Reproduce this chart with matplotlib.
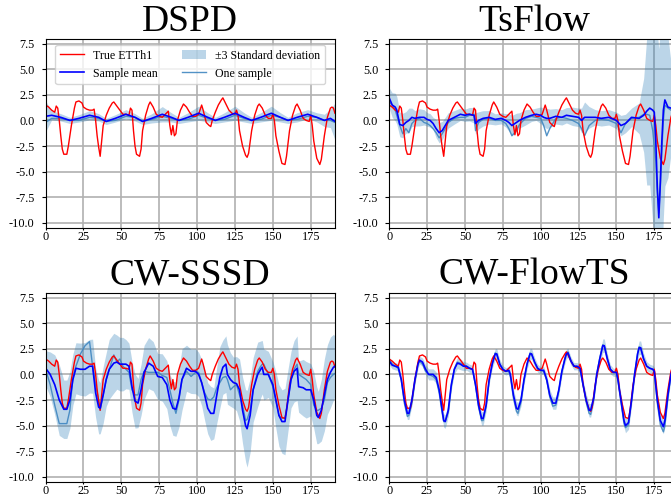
import numpy as np
import matplotlib
matplotlib.use('Agg')
import matplotlib.pyplot as plt

plt.rcParams['font.family'] = ['Liberation Serif', 'DejaVu Serif']
plt.rcParams['axes.unicode_minus'] = False

# ground truth ETTh1 (same in every panel)
true_x = [0, 2, 4, 6, 7, 8, 9, 10, 11, 12, 14, 15, 17, 19, 20, 22, 24, 25, 27, 29,
          31, 32, 33, 34, 35, 36, 37, 38, 40, 42, 44, 45, 47, 49, 51, 53, 55, 56, 57, 58,
          59, 60, 62, 63, 64, 66, 68, 69, 71, 73, 75, 77, 79, 81, 82, 83, 84, 85, 86, 87,
          89, 91, 93, 95, 97, 99, 101, 103, 104, 106, 108, 109, 110, 112, 114, 116, 117, 119, 121, 123,
          125, 126, 127, 128, 130, 132, 133, 134, 136, 138, 140, 141, 143, 145, 147, 149, 150, 151, 152, 154,
          156, 158, 159, 161, 163, 165, 166, 168, 170, 172, 174, 175, 176, 177, 179, 181, 182, 184, 186, 188,
          189, 190, 191]
true_y = [1.5, 1.3, 1.0, 0.8, 1.4, 1.2, 0.0, -1.5, -2.8, -3.3, -3.3, -2.5, -0.5, 1.2, 1.8, 1.9, 1.7, 1.3, 1.1, 1.0,
          1.0, 1.1, 0.0, -1.5, -2.6, -3.5, -2.0, -0.5, 0.5, 1.2, 1.7, 1.8, 1.4, 1.0, 0.6, 0.6, 0.5, 1.2, 1.0, -1.0,
          -2.5, -3.3, -3.5, -2.8, -1.0, 0.5, 1.5, 1.8, 1.3, 0.6, 0.4, 0.3, 0.6, 0.9, -0.5, -1.4, -0.5, -1.5, -1.3, 0.0,
          1.0, 1.6, 1.3, 0.8, 0.4, 0.4, 0.6, 1.5, 1.0, -0.2, -0.5, -0.6, 0.0, 0.8, 1.5, 2.0, 2.2, 1.6, 1.0, 0.7,
          0.6, 1.0, 0.5, -1.0, -2.5, -3.4, -3.6, -3.2, -1.0, 0.5, 1.4, 1.6, 1.2, 0.5, 0.2, 0.2, 0.6, 0.0, -1.5, -3.0,
          -4.2, -4.3, -3.5, -1.0, 0.5, 1.4, 1.6, 1.0, 0.2, 0.0, -0.1, 0.5, -0.5, -2.0, -3.7, -4.3, -3.8, -1.5, 0.3, 1.2,
          1.3, 1.2, 0.7]

# DSPD
dspd_x = [0, 4, 10, 16, 22, 29, 35, 40, 46, 53, 59, 64, 70, 77, 83, 88, 94, 101, 107, 112,
          118, 125, 131, 136, 142, 149, 155, 160, 166, 173, 179, 184, 188, 191]
dspd_mean = [0.4, 0.5, 0.3, 0.0, 0.2, 0.5, 0.3, -0.1, 0.2, 0.6, 0.3, -0.1, 0.2, 0.6, 0.3, 0.0, 0.3, 0.7, 0.3, 0.0,
             0.3, 0.7, 0.3, 0.0, 0.3, 0.7, 0.3, 0.0, 0.3, 0.6, 0.3, 0.0, 0.2, -0.1]
dspd_std = [0.5, 0.15, 0.12, 0.1, 0.12, 0.15, 0.12, 0.1, 0.12, 0.15, 0.12, 0.1, 0.15, 0.25, 0.15, 0.1, 0.15, 0.23, 0.15, 0.1,
            0.15, 0.23, 0.15, 0.1, 0.15, 0.23, 0.15, 0.1, 0.15, 0.15, 0.15, 0.2, 0.3, 0.6]
dspd_sample = [-0.2, 0.2, 0.2, 0.0, 0.0, 0.3, 0.2, -0.1, 0.0, 0.4, 0.3, -0.1, 0.1, 0.4, 0.2, 0.0, 0.1, 0.5, 0.2, 0.0,
               0.1, 0.5, 0.2, 0.0, 0.1, 0.5, 0.3, 0.0, 0.1, 0.4, 0.3, 0.0, 0.0, -0.2]

# TsFlow
tsflow_x = [0, 2, 4, 5, 7, 9, 11, 13, 15, 17, 20, 23, 25, 27, 29, 31, 33, 35, 37, 39,
            43, 47, 50, 53, 56, 57, 59, 62, 66, 70, 74, 77, 79, 81, 84, 86, 90, 94, 97, 100,
            102, 104, 106, 110, 114, 117, 121, 125, 127, 129, 132, 136, 140, 145, 150, 153, 156, 160, 165, 168,
            170, 172, 174, 175, 176, 177, 178, 179, 180, 181, 182, 184, 186, 188, 191]
tsflow_mean = [2.2, 1.5, 1.3, 1.0, -0.4, -0.5, -0.2, 0.0, 0.3, 0.2, 0.3, 0.3, 0.1, 0.0, -0.3, -0.8, -1.2, -1.0, -0.5, 0.0,
               0.3, 0.6, 0.5, 0.6, 0.5, -0.3, 0.0, 0.2, 0.3, 0.1, 0.2, 0.0, -0.2, -0.5, -0.2, 0.0, 0.3, 0.5, 0.6, 0.5,
               0.3, 0.2, 0.2, 0.4, 0.3, 0.5, 0.4, 0.3, 0.0, 0.3, 0.3, 0.3, 0.2, 0.3, 0.0, -0.5, -0.3, 0.3, 0.2, 0.5,
               0.9, 1.2, 1.0, 0.8, -2.0, -6.5, -9.5, -6.0, -2.0, 1.0, 2.0, 1.3, 1.2, 1.0, 1.0]
tsflow_std = [0.33, 0.4, 0.45, 0.45, 0.4, 0.4, 0.35, 0.4, 0.3, 0.25, 0.28, 0.25, 0.22, 0.22, 0.2, 0.3, 0.33, 0.3, 0.27, 0.25,
              0.22, 0.2, 0.2, 0.22, 0.25, 0.35, 0.28, 0.25, 0.22, 0.18, 0.18, 0.22, 0.28, 0.33, 0.3, 0.25, 0.25, 0.2, 0.2, 0.27,
              0.3, 0.33, 0.3, 0.25, 0.25, 0.25, 0.3, 0.3, 0.4, 0.5, 0.35, 0.25, 0.25, 0.25, 0.27, 0.33, 0.3, 0.3, 0.5, 1.2,
              2.4, 2.5, 3.7, 4.0, 4.5, 5.0, 5.5, 5.0, 4.0, 3.5, 2.8, 2.3, 1.5, 1.0, 0.8]
tsflow_sample = [1.8, 1.5, 1.0, 0.5, -0.5, -1.3, -0.8, -1.2, -0.3, 0.0, 0.2, -0.2, -0.3, -0.5, -0.8, -1.2, -1.7, -1.3, -0.8, -0.2,
                 0.2, 0.3, 0.3, 0.5, 0.6, -1.0, -0.2, 0.1, 0.2, 0.0, 0.0, -0.3, -0.8, -1.5, -1.0, -0.4, 0.2, 0.4, 0.3, 0.2,
                 -0.5, -1.5, -0.8, 0.2, 0.3, 0.2, 0.0, -0.3, -0.8, -1.5, -0.5, 0.0, 0.1, 0.0, -0.3, -1.2, -0.3, 0.2, 0.3, 0.6,
                 0.6, 0.5, -1.0, -2.5, -4.0, -7.0, -9.0, -6.5, -3.0, 0.0, 1.5, 1.2, 1.0, 0.9, 0.8]

# CW-SSSD
sssd_x = [0, 3, 6, 9, 12, 14, 16, 18, 20, 23, 26, 29, 31, 33, 35, 36, 38, 40, 42, 45,
          47, 49, 51, 53, 55, 57, 59, 61, 63, 65, 68, 71, 74, 77, 80, 82, 84, 86, 88, 90,
          93, 96, 99, 101, 103, 105, 107, 109, 111, 113, 115, 117, 119, 120, 122, 124, 126, 128, 130, 132,
          133, 135, 137, 140, 142, 143, 144, 147, 150, 152, 154, 156, 158, 160, 162, 164, 166, 167, 170, 172,
          175, 177, 179, 180, 182, 184, 186, 188, 190, 191]
sssd_mean = [0.6, 0.0, -1.0, -2.5, -3.4, -3.4, -2.5, -0.5, 0.6, 0.5, 0.5, 0.8, 0.8, -1.8, -3.2, -3.3, -2.0, -0.5, 0.5, 1.1,
             1.2, 1.0, 1.0, 1.0, 0.8, -1.2, -2.6, -2.8, -1.5, 0.2, 1.1, 0.8, -0.2, -0.3, -1.0, -2.5, -3.3, -3.4, -2.3, -0.5,
             0.6, 0.3, 0.3, 0.0, -0.8, -2.0, -3.3, -3.8, -3.8, -2.0, -0.3, 0.7, 1.0, 0.0, -0.5, -0.8, -0.9, -1.5, -3.5, -5.0,
             -5.3, -4.0, -1.5, 0.0, 0.5, 0.7, 0.0, 0.0, -1.0, -2.5, -4.0, -4.6, -4.6, -2.5, -0.5, 0.3, 0.6, -1.2, -1.3, -1.5,
             -1.5, -2.5, -4.0, -4.2, -3.5, -2.0, -0.5, 0.2, 0.7, 0.8]
sssd_std = [0.57, 0.73, 0.97, 1.15, 0.95, 0.95, 0.92, 0.83, 0.83, 0.85, 0.87, 0.87, 0.88, 0.8, 0.87, 0.83, 0.92, 0.87, 0.97, 0.97,
            0.88, 0.87, 0.87, 0.8, 0.75, 0.83, 0.88, 0.8, 0.83, 0.88, 0.83, 0.8, 0.75, 0.77, 0.78, 0.83, 0.88, 0.88, 0.95, 1.0,
            0.75, 0.72, 0.73, 0.72, 0.75, 0.83, 0.83, 0.88, 0.83, 0.92, 1.0, 0.88, 0.92, 0.97, 0.87, 0.83, 0.88, 1.0, 1.08, 1.17,
            1.25, 1.2, 1.05, 1.05, 0.92, 0.87, 0.83, 0.75, 0.75, 0.92, 1.0, 1.03, 1.08, 1.0, 0.92, 1.0, 1.05, 0.83, 0.92, 0.92,
            0.85, 0.92, 0.92, 0.85, 1.0, 1.17, 1.13, 1.15, 1.07, 0.98]
sssd_sample = [0.5, -1.0, -3.0, -4.8, -4.8, -4.8, -3.5, -0.3, 0.8, 2.0, 2.8, 3.2, 0.8, -1.0, -2.5, -3.5, -2.0, -0.5, 0.5, 1.9,
               1.2, 1.5, 0.8, 0.5, 0.2, -1.5, -2.0, -2.0, -0.5, 0.3, 0.2, 0.2, 0.2, -0.1, -0.3, -1.5, -2.8, -3.8, -2.5, -0.5,
               0.3, -0.2, 0.2, 0.2, -0.8, -1.8, -2.4, -2.5, -2.2, -1.3, -0.8, -0.3, -0.2, -0.5, -1.5, -1.2, -1.0, -2.0, -3.0, -4.5,
               -4.4, -3.5, -1.5, 0.3, 0.8, 1.0, 1.0, 0.0, -1.2, -2.5, -4.0, -4.3, -4.2, -2.5, -0.5, 0.5, 1.0, 0.0, -0.3, -0.5,
               -1.0, -3.0, -3.5, -3.5, -3.3, -2.5, -0.8, -0.3, 0.0, 0.1]

# CW-FlowTS
flowts_x = [0, 2, 4, 6, 8, 10, 12, 13, 15, 17, 19, 20, 22, 24, 26, 29, 31, 33, 35, 36,
            37, 39, 41, 43, 45, 47, 49, 51, 53, 55, 57, 59, 61, 62, 64, 66, 68, 70, 71, 73,
            75, 77, 79, 80, 82, 84, 85, 87, 89, 91, 93, 94, 96, 98, 100, 102, 104, 106, 108, 110,
            112, 114, 116, 117, 118, 120, 122, 124, 126, 128, 130, 132, 133, 135, 137, 139, 141, 142, 144, 146,
            148, 150, 151, 153, 155, 156, 158, 160, 162, 164, 165, 166, 168, 170, 172, 174, 175, 177, 179, 181,
            182, 184, 186, 188, 191]
flowts_mean = [1.3, 0.9, 0.8, 0.7, -0.5, -2.5, -3.8, -3.8, -2.5, -0.5, 1.0, 1.4, 1.2, 0.5, 0.0, 0.0, -0.3, -1.5, -3.5, -4.5,
               -4.6, -3.5, -1.0, 0.5, 1.1, 1.0, 0.8, 0.8, 0.6, 0.5, -1.0, -3.0, -4.3, -4.3, -3.0, -0.5, 1.0, 2.0, 2.0, 1.0,
               0.5, 0.3, 0.4, 0.0, -2.0, -3.3, -3.4, -2.5, -0.5, 1.0, 2.0, 2.0, 1.2, 0.6, 0.4, 0.4, -0.5, -2.0, -2.8, -2.8,
               -1.5, 0.3, 1.5, 2.0, 2.1, 1.3, 0.8, 0.8, 0.6, -1.0, -2.5, -3.5, -3.5, -2.3, 0.0, 1.5, 2.8, 2.8, 1.5, 0.5,
               0.2, 0.2, -0.5, -2.5, -4.5, -5.0, -4.7, -2.5, 0.0, 2.0, 2.6, 2.6, 1.5, 0.8, 0.6, 0.5, 0.3, -2.5, -4.5, -5.1,
               -4.5, -2.0, 0.0, 1.0, 1.2]
flowts_std = [0.12, 0.12, 0.12, 0.12, 0.15, 0.2, 0.2, 0.2, 0.18, 0.15, 0.15, 0.13, 0.13, 0.15, 0.18, 0.18, 0.18, 0.2, 0.22, 0.22,
              0.22, 0.2, 0.18, 0.15, 0.18, 0.18, 0.15, 0.13, 0.13, 0.13, 0.15, 0.2, 0.22, 0.22, 0.2, 0.15, 0.15, 0.17, 0.17, 0.15,
              0.12, 0.12, 0.12, 0.13, 0.2, 0.22, 0.22, 0.2, 0.17, 0.17, 0.18, 0.18, 0.15, 0.13, 0.12, 0.12, 0.15, 0.18, 0.2, 0.2,
              0.18, 0.15, 0.15, 0.15, 0.15, 0.13, 0.12, 0.12, 0.12, 0.15, 0.2, 0.22, 0.22, 0.18, 0.15, 0.18, 0.22, 0.22, 0.18, 0.15,
              0.13, 0.13, 0.15, 0.2, 0.22, 0.23, 0.22, 0.2, 0.17, 0.2, 0.22, 0.22, 0.18, 0.15, 0.13, 0.13, 0.13, 0.2, 0.22, 0.23,
              0.22, 0.2, 0.17, 0.15, 0.15]
flowts_sample = [1.5, 1.0, 0.8, 0.6, -0.6, -2.8, -4.1, -4.0, -2.8, -0.7, 1.0, 1.3, 1.0, 0.3, 0.0, -0.2, -0.5, -1.8, -3.8, -4.6,
                 -4.6, -3.7, -1.2, 0.5, 1.2, 1.1, 0.9, 0.8, 0.6, 0.5, -1.1, -3.2, -4.5, -4.5, -3.1, -0.6, 1.1, 2.1, 2.0, 1.0,
                 0.5, 0.3, 0.3, -0.2, -2.3, -3.6, -3.8, -2.7, -0.6, 1.0, 2.1, 2.0, 1.2, 0.5, 0.4, 0.3, -0.6, -2.2, -3.1, -3.0,
                 -1.6, 0.3, 1.6, 2.1, 2.2, 1.3, 0.8, 0.7, 0.5, -1.1, -2.7, -3.8, -3.9, -2.5, 0.0, 1.6, 2.9, 2.8, 1.6, 0.5,
                 0.2, 0.2, -0.6, -2.7, -4.8, -5.2, -4.9, -2.6, 0.0, 2.1, 2.7, 2.6, 1.5, 0.8, 0.6, 0.5, 0.3, -2.8, -4.9, -5.6,
                 -5.0, -2.2, 0.0, 1.0, 1.2]

titles = ['DSPD', 'TsFlow', 'CW-SSSD', 'CW-FlowTS']
panels = [(dspd_x, dspd_mean, dspd_std, dspd_sample),
          (tsflow_x, tsflow_mean, tsflow_std, tsflow_sample),
          (sssd_x, sssd_mean, sssd_std, sssd_sample),
          (flowts_x, flowts_mean, flowts_std, flowts_sample)]

# axes boxes in figure fraction; right column runs off the edge like the source image
w, h = 0.4312, 0.379
boxes = [[0.068, 0.543, w, h], [0.580, 0.543, w, h],
         [0.068, 0.034, w, h], [0.580, 0.034, w, h]]

fig = plt.figure(figsize=(6.71, 4.99), dpi=100)
for i, (px, pm, ps, psam) in enumerate(panels):
    ax = fig.add_axes(boxes[i])
    px = np.array(px)
    pm = np.array(pm)
    ps = np.array(ps)
    ax.grid(True, color='#b0b0b0', lw=1.2, zorder=0)
    ax.set_axisbelow(True)
    band = ax.fill_between(px, pm - 3 * ps, pm + 3 * ps, color='#1f77b4', alpha=0.3, lw=0,
                           label='±3 Standard deviation')
    l_samp, = ax.plot(px, psam, color='#3f86c0', lw=1.0, alpha=0.9, label='One sample')
    l_true, = ax.plot(true_x, true_y, color='red', lw=1.0, label='True ETTh1')
    l_mean, = ax.plot(px, pm, color='blue', lw=1.2, label='Sample mean')
    ax.set_xlim(0, 191)
    ax.set_ylim(-10.5, 7.95)
    ax.set_xticks(np.arange(0, 191, 25))
    ax.set_yticks(np.arange(-10, 7.6, 2.5))
    ax.tick_params(labelsize=8.8, width=0.8)
    ax.tick_params(axis='x', length=1.5, pad=0.5)
    ax.tick_params(axis='y', length=3, pad=5)
    ax.set_title(titles[i], fontsize=27, pad=6)
    if i == 0:
        ax.legend(handles=[l_true, l_mean, band, l_samp], ncol=2, loc='upper center',
                  fontsize=8.6, framealpha=0.8)

fig.savefig('out.png', dpi=100)
